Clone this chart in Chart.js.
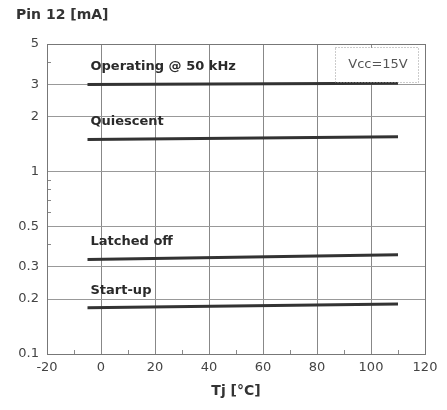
<!DOCTYPE html>
<html><head><meta charset="utf-8">
<script src="https://cdn.jsdelivr.net/npm/chart.js@4/dist/chart.umd.min.js"></script>
<style>html,body{margin:0;padding:0;background:#fff}#wrap{width:447px;height:410px;position:relative}</style>
</head><body><div id="wrap"><canvas id="c" width="447" height="410"></canvas></div>
<script>
const temps = [-5, 110];
const operating = [3.0, 3.05];
const quiescent = [1.5, 1.55];
const latchedOff = [0.33, 0.35];
const startUp = [0.179, 0.188];
const seriesNames = ["Operating @ 50 kHz", "Quiescent", "Latched off", "Start-up"];
const xTicks = [-20, 0, 20, 40, 60, 80, 100, 120];
const xMinorTicks = [-10, 10, 30, 50, 70, 90, 110];
const yTicks = [0.1, 0.2, 0.3, 0.5, 1, 2, 3, 5];
const yMinorTicks = [0.4, 0.6, 0.7, 0.8, 0.9, 4];
const yTickLabels = ["0.1", "0.2", "0.3", "0.5", "1", "2", "3", "5"];
const noteText = "Vcc=15V";
const yTitle = "Pin 12 [mA]";
const xTitle = "Tj [°C]";

const allSeries = [operating, quiescent, latchedOff, startUp];
const datasets = allSeries.map((s, i) => ({
  label: seriesNames[i],
  data: temps.map((t, j) => ({x: t, y: s[j]})),
  borderColor: '#333',
  borderWidth: 3,
  pointRadius: 0,
  fill: false,
  tension: 0
}));

const FONT = '"DejaVu Sans", sans-serif';

const labelPlugin = {
  id: 'labels',
  afterDatasetsDraw(chart) {
    const ctx = chart.ctx;
    const xs = chart.scales.x, ys = chart.scales.y;
    const a = chart.chartArea;
    ctx.save();
    // minor ticks
    ctx.strokeStyle = '#888';
    ctx.lineWidth = 1;
    ctx.beginPath();
    xMinorTicks.forEach(v => {
      const px = Math.round(xs.getPixelForValue(v)) + 0.5;
      ctx.moveTo(px, a.bottom); ctx.lineTo(px, a.bottom - 4);
    });
    yMinorTicks.forEach(v => {
      const py = Math.round(ys.getPixelForValue(v)) + 0.5;
      ctx.moveTo(a.left, py); ctx.lineTo(a.left + 4, py);
    });
    ctx.stroke();
    // series labels
    ctx.fillStyle = '#2a2a2a';
    ctx.font = 'bold 13px ' + FONT;
    ctx.textBaseline = 'alphabetic';
    ctx.textAlign = 'left';
    allSeries.forEach((s, i) => {
      const px = xs.getPixelForValue(temps[0]) + 3;
      const py = ys.getPixelForValue(s[0]) - 14;
      ctx.fillText(seriesNames[i], px, py);
    });
    // note box
    ctx.strokeStyle = '#999';
    ctx.lineWidth = 1;
    ctx.setLineDash([1, 2]);
    ctx.strokeRect(335.5, 47.5, 83, 35);
    ctx.setLineDash([]);
    ctx.fillStyle = '#fff';
    ctx.fillRect(336, 48, 82, 34);
    ctx.fillStyle = '#555';
    ctx.textAlign = 'center';
    ctx.textBaseline = 'middle';
    ctx.font = '13px ' + FONT;
    ctx.fillText(noteText, 378, 65);
    // title
    ctx.textAlign = 'left';
    ctx.textBaseline = 'middle';
    ctx.font = 'bold 14px ' + FONT;
    ctx.fillStyle = '#333';
    ctx.fillText(yTitle, 16, 15);
    // border
    ctx.strokeStyle = '#777';
    ctx.lineWidth = 1;
    ctx.strokeRect(Math.round(a.left) + 0.5, Math.round(a.top) + 0.5, Math.round(a.right - a.left), Math.round(a.bottom - a.top));
    ctx.restore();
  }
};

new Chart(document.getElementById('c'), {
  type: 'line',
  data: {datasets},
  plugins: [labelPlugin],
  options: {
    responsive: false,
    animation: false,
    layout: {padding: {left: 0, right: 22, top: 44, bottom: 10}},
    plugins: {legend: {display: false}, tooltip: {enabled: false}},
    scales: {
      x: {
        type: 'linear', min: -20, max: 120,
        afterBuildTicks(sc) { sc.ticks = xTicks.map(v => ({value: v})); },
        afterFit(sc) { sc.height = 46; },
        grid: {color: '#888', lineWidth: 1, drawTicks: false},
        border: {display: false},
        ticks: {color: '#444', font: {family: FONT, size: 13}, padding: 6, maxRotation: 0},
        title: {display: true, text: xTitle, color: '#333', font: {family: FONT, size: 14, weight: 'bold'}, padding: {top: 0, bottom: 0}}
      },
      y: {
        type: 'logarithmic', min: 0.1, max: 5,
        afterBuildTicks(sc) { sc.ticks = yTicks.map(v => ({value: v})); },
        afterFit(sc) { sc.width = 47; },
        grid: {color: '#999', lineWidth: 1, drawTicks: false},
        border: {display: false},
        ticks: {color: '#444', font: {family: FONT, size: 13}, padding: 8,
          callback: (v) => { const i = yTicks.indexOf(v); return i >= 0 ? yTickLabels[i] : ''; }}
      }
    }
  }
});
</script></body></html>
